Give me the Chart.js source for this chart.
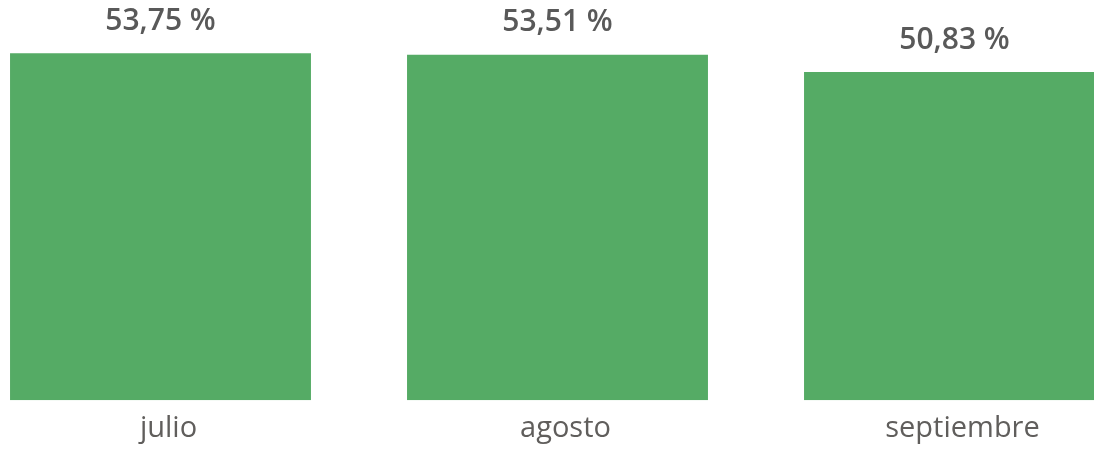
<!DOCTYPE html>
<html>
<head>
<meta charset="utf-8">
<script src="https://cdn.jsdelivr.net/npm/chart.js@4"></script>
<style>
    html, body { margin: 0; padding: 0; background: #fff; overflow: hidden; }
    #wrap { position: absolute; left: -38px; top: 0; width: 1191px; height: 451px; }
</style>
</head>
<body>
<div id="wrap"><canvas id="myChart" width="1191" height="451"></canvas></div>
<script>
const months = ['julio', 'agosto', 'septiembre'];
const rates = [53.75, 53.51, 50.83];

// draws the value above each bar (no datalabels plugin offline)
const valueLabels = {
    id: 'valueLabels',
    afterDatasetsDraw(chart) {
        const ctx = chart.ctx;
        const meta = chart.getDatasetMeta(0);
        ctx.save();
        ctx.font = '600 30px "Open Sans", "Noto Sans", sans-serif';
        ctx.fillStyle = '#595959';
        ctx.textAlign = 'center';
        ctx.textBaseline = 'middle';
        meta.data.forEach((bar, i) => {
            const txt = rates[i].toFixed(2).replace('.', ',') + ' %';
            ctx.fillText(txt, bar.x, bar.y - 32);
        });
        ctx.restore();
    }
};

const config = {
    type: 'bar',
    data: {
        labels: months,
        datasets: [{
            data: rates,
            backgroundColor: '#55AB65',
            borderWidth: 0,
            barPercentage: 0.758,
            categoryPercentage: 1
        }]
    },
    options: {
        responsive: false,
        animation: false,
        layout: { padding: { top: 0, bottom: 2 } },
        scales: {
            y: {
                min: 0,
                max: 62,
                display: false
            },
            x: {
                grid: { display: false },
                border: { display: false },
                ticks: {
                    color: '#605E5C',
                    padding: 3,
                    labelOffset: 8,
                    font: { family: '"Open Sans", "Noto Sans", sans-serif', size: 29 }
                }
            }
        },
        plugins: {
            legend: { display: false },
            tooltip: { enabled: false }
        }
    },
    plugins: [valueLabels]
};

const ctx = document.getElementById('myChart').getContext('2d');
new Chart(ctx, config);
</script>
</body>
</html>
